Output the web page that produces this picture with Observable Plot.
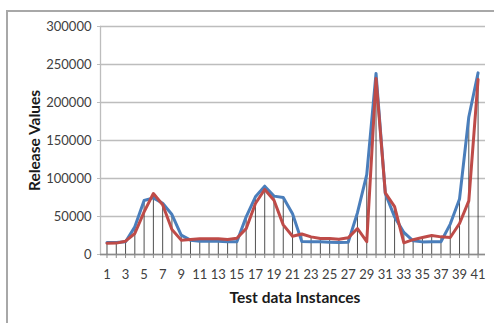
<!DOCTYPE html>
<html>
<head>
<meta charset="utf-8">
<script src="https://cdn.jsdelivr.net/npm/d3@7"></script>
<script src="https://cdn.jsdelivr.net/npm/@observablehq/plot@0.6"></script>
<style>
  body { margin: 0; background: #fff; }
  #wrap { position: relative; width: 494px; height: 323px; overflow: hidden; background: #fff; }
  #border { position: absolute; left: 6px; top: 10px; width: 600px; height: 400px; border: 2px solid #a8a8a8; box-sizing: border-box; }
  #chart { position: absolute; left: 0; top: 0; }
</style>
</head>
<body>
<div id="wrap"><div id="border"></div><div id="chart"></div></div>
<script>
const instances = [1,2,3,4,5,6,7,8,9,10,11,12,13,14,15,16,17,18,19,20,21,22,23,24,25,26,27,28,29,30,31,32,33,34,35,36,37,38,39,40,41];
const blueSeries = [15800,15800,16700,36400,71000,74500,67500,52600,25400,18900,17500,17500,17500,16700,16800,49500,75900,89900,76800,75000,53500,17000,16700,16700,16200,15800,16200,55000,105000,238200,80300,49500,29000,18000,16600,16800,16800,40000,73000,181000,239000];
const redSeries = [14900,15000,17500,27600,56100,80300,65400,32900,18900,19700,20600,20600,20600,19700,21300,34000,67100,85500,71500,39000,24100,27000,23200,21100,21100,20200,21900,34200,16800,231600,81100,63000,15300,19500,22400,25000,23200,22400,40800,70500,230300];
const yTicks = [0,50000,100000,150000,200000,250000,300000];
const xLabelTicks = [1,3,5,7,9,11,13,15,17,19,21,23,25,27,29,31,33,35,37,39,41];
const yTitle = "Release Values";
const xTitle = "Test data Instances";

const rows = instances.map((i, k) => ({i, blue: blueSeries[k], red: redSeries[k]}));

const chart = Plot.plot({
  width: 494,
  height: 323,
  marginLeft: 100,
  marginRight: 9,
  marginTop: 26,
  marginBottom: 69,
  style: {fontFamily: "Lato, 'Open Sans', sans-serif", fontSize: "13px", color: "#404040", background: "transparent"},
  x: {type: "linear", domain: [0.3, 41.8]},
  y: {domain: [0, 300000]},
  marks: [
    Plot.gridY(yTicks, {stroke: "#bdbdbd", strokeOpacity: 1, strokeWidth: 1.3}),
    Plot.axisY(yTicks, {tickSize: 3, tickPadding: 6, stroke: "#bdbdbd", fill: "#404040", label: null, tickFormat: d => String(d)}),
    Plot.axisX(instances, {tickSize: 4, stroke: "#8c8c8c", tickFormat: () => "", label: null}),
    Plot.axisX(xLabelTicks, {tickSize: 0, tickPadding: 15, fill: "#404040", label: null, tickFormat: d => String(d)}),
    Plot.frame({anchor: "left", stroke: "#bdbdbd", strokeWidth: 1.3}),
    Plot.ruleX(rows, {x: "i", y1: 0, y2: d => Math.max(d.blue, d.red), stroke: "#222", strokeWidth: 0.8}),
    Plot.ruleY([0], {stroke: "#8c8c8c", strokeWidth: 1.3}),
    Plot.line(rows, {x: "i", y: "blue", stroke: "#4a7ebb", strokeWidth: 3, strokeLinejoin: "round"}),
    Plot.line(rows, {x: "i", y: "red", stroke: "#be4b48", strokeWidth: 3, strokeLinejoin: "round"}),
    Plot.text([yTitle], {frameAnchor: "left", rotate: -90, dx: -65, fontSize: 15.5, fontWeight: "bold", fill: "#1a1a1a", textAnchor: "middle", lineAnchor: "middle"}),
    Plot.text([xTitle], {frameAnchor: "bottom", dy: 44, dx: 2, fontSize: 15.5, fontWeight: "bold", fill: "#1a1a1a", textAnchor: "middle", lineAnchor: "middle"})
  ]
});
document.getElementById("chart").appendChild(chart);
</script>
</body>
</html>
